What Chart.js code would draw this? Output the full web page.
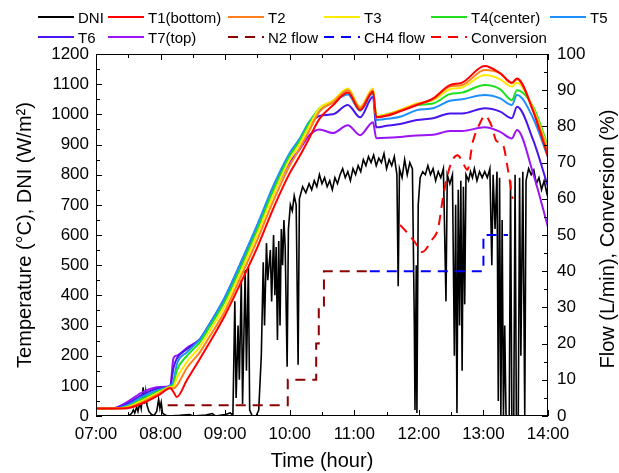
<!DOCTYPE html>
<html>
<head>
<meta charset="utf-8">
<script src="https://cdn.jsdelivr.net/npm/chart.js@4.4.0/dist/chart.umd.min.js"></script>
<style>
  body { margin: 0; background: #fff; }
  #wrap { position: relative; width: 619px; height: 473px; font-family: Arial, "Liberation Sans", sans-serif; }
  #legend { position: absolute; left: 0; top: 0; width: 619px; height: 50px; }
  .item { position: absolute; height: 20px; display: flex; align-items: center; font-size: 15px; white-space: nowrap; color: #000; }
  .item svg { margin-right: 4px; }
</style>
</head>
<body>
<div id="wrap">
  <canvas id="chart" width="619" height="473"></canvas>
  <div id="legend"></div>
</div>
<script>
// time in decimal hours
var tempTime = [7.0, 7.27, 7.48, 7.73, 7.99, 8.15, 8.2, 8.25, 8.41, 8.61, 8.75, 9.0, 9.25, 9.5, 9.75, 10.0, 10.15, 10.3, 10.46, 10.67, 10.9, 11.09, 11.29, 11.34, 11.5, 11.71, 11.97, 12.22, 12.48, 12.67, 13.02, 13.26, 13.44, 13.52, 13.77, 14.0]
var t1 = [25, 25, 26, 43, 72, 92, 80, 63, 120, 190, 240, 335, 445, 560, 690, 805, 860, 920, 985, 1030, 1072, 1014, 1075, 990, 995, 1010, 1031, 1053, 1097, 1105, 1160, 1136, 1105, 1119, 1010, 860]
var t2 = [25, 25, 27, 47, 76, 94, 92, 100, 160, 212, 260, 350, 465, 585, 715, 830, 885, 945, 1009, 1040, 1080, 1022, 1080, 990, 998, 1012, 1034, 1050, 1092, 1097, 1147, 1136, 1103, 1116, 1015, 875]
var t3 = [25, 25, 29, 52, 80, 96, 98, 125, 180, 230, 278, 368, 482, 605, 735, 850, 900, 960, 1020, 1045, 1086, 1025, 1086, 994, 1000, 1015, 1036, 1047, 1083, 1089, 1130, 1116, 1092, 1105, 1020, 885]
var t4 = [25, 25, 31, 58, 84, 98, 105, 150, 200, 245, 292, 382, 497, 620, 750, 862, 910, 970, 1020, 1045, 1083, 1020, 1083, 994, 1000, 1012, 1031, 1036, 1067, 1072, 1097, 1083, 1047, 1080, 1025, 895]
var t5 = [25, 25, 35, 65, 88, 100, 115, 170, 212, 255, 302, 395, 512, 635, 765, 872, 918, 975, 1015, 1040, 1066, 1012, 1070, 981, 985, 992, 1014, 1020, 1045, 1050, 1064, 1053, 1031, 1064, 987, 858]
var t6 = [25, 25, 40, 72, 92, 100, 160, 190, 222, 255, 302, 395, 512, 632, 758, 866, 915, 965, 995, 1000, 1031, 990, 1058, 957, 962, 968, 981, 987, 1003, 1003, 1020, 1009, 987, 1025, 915, 760]
var t7 = [25, 26, 46, 80, 96, 100, 192, 200, 226, 255, 298, 385, 498, 615, 738, 842, 882, 930, 950, 938, 964, 931, 974, 921, 922, 925, 930, 932, 945, 945, 957, 942, 920, 948, 804, 626]

var dniTime = [7.00, 7.50, 7.55, 7.58, 7.60, 7.63, 7.65, 7.68, 7.70, 7.72, 7.73, 7.75, 7.77, 7.79, 7.82, 7.86, 7.90, 7.94, 7.97, 7.99,
  8.01, 8.03, 8.07, 8.12, 8.30, 8.45, 8.50, 8.70, 8.80, 8.85, 9.00, 9.08, 9.12, 9.15, 9.17, 9.20, 9.22, 9.25, 9.27, 9.31,
  9.33, 9.36, 9.38, 9.42, 9.48, 9.52, 9.56, 9.59, 9.61, 9.64, 9.66, 9.70, 9.72, 9.75, 9.77, 9.79, 9.81, 9.83, 9.85, 9.87,
  9.89, 9.91, 9.93, 9.96, 9.98, 10.01, 10.04, 10.07, 10.10, 10.13, 10.15, 10.20, 10.25, 10.30, 10.34, 10.38, 10.42, 10.46, 10.50, 10.54,
  10.58, 10.62, 10.66, 10.70, 10.74, 10.78, 10.82, 10.86, 10.90, 10.94, 10.98, 11.02, 11.06, 11.10, 11.14, 11.18, 11.22, 11.26, 11.30, 11.34,
  11.38, 11.42, 11.46, 11.50, 11.54, 11.58, 11.62, 11.66, 11.68, 11.70, 11.74, 11.78, 11.82, 11.86, 11.90, 11.93, 11.94, 11.96, 11.97, 11.99,
  12.02, 12.06, 12.10, 12.14, 12.18, 12.22, 12.26, 12.30, 12.34, 12.38, 12.42, 12.44, 12.48, 12.52, 12.55, 12.57, 12.59, 12.61, 12.63, 12.65,
  12.67, 12.69, 12.71, 12.73, 12.77, 12.80, 12.83, 12.86, 12.90, 12.94, 12.98, 13.02, 13.06, 13.10, 13.13, 13.15, 13.18, 13.21, 13.23, 13.25,
  13.27, 13.29, 13.31, 13.33, 13.35, 13.40, 13.42, 13.44, 13.47, 13.49, 13.51, 13.54, 13.56, 13.58, 13.61, 13.64, 13.66, 13.70, 13.74, 13.78,
  13.82, 13.86, 13.90, 13.94, 13.98, 14.00]
var dniValue = [0, 0, 8, 20, 10, 30, 15, 45, 25, 70, 95, 40, 80, 35, 15, 5, 2, 15, 55, 25,
  45, 10, 3, 0, 2, 5, 0, 3, 8, 0, 5, 10, 2, 380, 60, 300, 120, 450, 40, 484,
  150, 494, 20, 0, 0, 20, 200, 510, 300, 573, 450, 550, 380, 600, 400, 560, 252, 580, 300, 620,
  500, 650, 560, 163, 620, 700, 680, 730, 700, 170, 720, 760, 740, 770, 750, 780, 760, 800, 770, 790,
  760, 780, 750, 790, 770, 800, 820, 790, 810, 780, 820, 800, 830, 810, 850, 830, 860, 840, 865, 830,
  855, 840, 870, 820, 850, 830, 860, 800, 430, 820, 790, 850, 800, 840, 820, 300, 20, 500, 10, 700,
  790, 810, 800, 830, 800, 820, 780, 810, 790, 820, 380, 800, 770, 800, 200, 700, 10, 750, 300, 780,
  150, 760, 370, 800, 780, 810, 790, 820, 780, 810, 790, 810, 790, 820, 500, 800, 620, 810, 50, 790,
  0, 650, 0, 300, 0, 0, 780, 0, 0, 800, 0, 0, 790, 200, 810, 0, 780, 820, 800, 815,
  770, 790, 750, 780, 740, 760]

// flows and conversion on the right axis
var n2Time = [8.11, 9.97, 9.97, 10.41, 10.41, 10.45, 10.45, 10.53, 10.53, 11.22]
var n2Value = [3, 3, 10, 10, 20, 20, 30, 30, 40, 40]
var ch4Time = [11.24, 13.0, 13.0, 13.38]
var ch4Value = [40, 40, 50, 50]
var convTime = [11.71, 11.85, 11.94, 12.05, 12.2, 12.3, 12.37, 12.45, 12.53, 12.6, 12.68, 12.75, 12.84, 12.95, 13.02, 13.13, 13.2, 13.3, 13.38, 13.45]
var convValue = [52.8, 50, 48, 45.3, 48.6, 52, 60, 67, 71, 72, 70, 68, 76, 81, 83, 80, 76, 75, 68, 60]

function pts(xs, ys) {
    return xs.map(function(x, i) { return {x: x, y: ys[i]}; });
}

var FONT = 'Arial, "Liberation Sans", sans-serif';

function tempSet(label, vals, color) {
    return {
        label: label, data: pts(tempTime, vals), yAxisID: 'y',
        borderColor: color, backgroundColor: color, borderWidth: 2,
        pointRadius: 0, cubicInterpolationMode: 'monotone', order: 5
    };
}

var datasets = [
    { label: 'DNI', data: pts(dniTime, dniValue), yAxisID: 'y', borderColor: '#000', backgroundColor: '#000',
      borderWidth: 1.6, pointRadius: 0, tension: 0, order: 10 },
    tempSet('T1(bottom)', t1, '#ff0000'),
    tempSet('T2', t2, '#ff7f1e'),
    tempSet('T3', t3, '#ffea00'),
    tempSet('T4(center)', t4, '#1fe01f'),
    tempSet('T5', t5, '#1e8fff'),
    tempSet('T6', t6, '#4a14f0'),
    tempSet('T7(top)', t7, '#9b14f5'),
    { label: 'N2 flow', data: pts(n2Time, n2Value), yAxisID: 'y2', borderColor: '#8b0000', backgroundColor: '#8b0000',
      borderWidth: 2, borderDash: [10, 7], pointRadius: 0, order: 1 },
    { label: 'CH4 flow', data: pts(ch4Time, ch4Value), yAxisID: 'y2', borderColor: '#0000ff', backgroundColor: '#0000ff',
      borderWidth: 2, borderDash: [10, 7], pointRadius: 0, order: 1 },
    { label: 'Conversion', data: pts(convTime, convValue), yAxisID: 'y2', borderColor: '#ff0000', backgroundColor: '#ff0000',
      borderWidth: 2, borderDash: [10, 7], pointRadius: 0, cubicInterpolationMode: 'monotone', order: 1 }
]

// inward ticks, frame and the right-hand title
var framePlugin = {
    id: 'frame',
    afterDraw: function(chart) {
        var ctx = chart.ctx, a = chart.chartArea;
        var x = chart.scales.x, y = chart.scales.y, y2 = chart.scales.y2;
        ctx.save();
        ctx.strokeStyle = '#000';
        ctx.lineWidth = 1;
        ctx.strokeRect(a.left + 0.5, a.top + 0.5, a.right - a.left - 1, a.bottom - a.top - 1);
        ctx.beginPath();
        for (var v = 7; v <= 14.001; v += 0.5) {
            var px = Math.round(x.getPixelForValue(v)) + 0.5;
            var len = (Math.abs(v - Math.round(v)) < 0.01) ? 6 : 4;
            ctx.moveTo(px, a.bottom); ctx.lineTo(px, a.bottom - len);
            ctx.moveTo(px, a.top); ctx.lineTo(px, a.top + len);
        }
        for (var w = 0; w <= 1200; w += 50) {
            var py = Math.round(y.getPixelForValue(w)) + 0.5;
            var l2 = (w % 100 === 0) ? 6 : 4;
            ctx.moveTo(a.left, py); ctx.lineTo(a.left + l2, py);
        }
        for (var r = 0; r <= 100; r += 5) {
            var py2 = Math.round(y2.getPixelForValue(r)) + 0.5;
            var l3 = (r % 10 === 0) ? 6 : 4;
            ctx.moveTo(a.right, py2); ctx.lineTo(a.right - l3, py2);
        }
        ctx.stroke();
        ctx.fillStyle = '#000';
        ctx.font = '20px ' + FONT;
        ctx.textAlign = 'center';
        ctx.textBaseline = 'middle';
        ctx.translate(608, (a.top + a.bottom) / 2 + 4);
        ctx.rotate(-Math.PI / 2);
        ctx.fillText('Flow (L/min), Conversion (%)', 0, 0);
        ctx.restore();
    }
};

function plain(v) { return String(v); }

var chart = new Chart(document.getElementById('chart'), {
    type: 'line',
    data: { datasets: datasets },
    plugins: [framePlugin],
    options: {
        responsive: false,
        animation: false,
        events: [],
        layout: { padding: { top: 54, left: 0, right: 0, bottom: 0 } },
        plugins: { legend: { display: false }, tooltip: { enabled: false } },
        scales: {
            x: {
                type: 'linear', min: 7, max: 14,
                afterFit: function(s) { s.height = 57; },
                grid: { display: false, drawTicks: false },
                border: { display: false },
                ticks: {
                    stepSize: 1, padding: 8, color: '#000', font: { family: FONT, size: 17 },
                    maxRotation: 0,
                    callback: function(v) { return (v < 10 ? '0' : '') + v + ':00'; }
                },
                title: { display: true, text: 'Time (hour)', color: '#000', font: { family: FONT, size: 20 }, padding: { top: 0, bottom: 0 } }
            },
            y: {
                position: 'left', min: 0, max: 1200,
                afterFit: function(s) { s.width = 96; },
                grid: { display: false, drawTicks: false },
                border: { display: false },
                ticks: { stepSize: 100, padding: 7, color: '#000', font: { family: FONT, size: 17 }, callback: plain },
                title: { display: true, text: 'Temperature (°C), DNI (W/m²)', color: '#000', font: { family: FONT, size: 20 }, padding: { top: 13, bottom: 0 } }
            },
            y2: {
                position: 'right', min: 0, max: 100,
                afterFit: function(s) { s.width = 71; },
                grid: { display: false, drawTicks: false },
                border: { display: false },
                ticks: { stepSize: 10, padding: 9, color: '#000', font: { family: FONT, size: 17 }, callback: plain }
            }
        }
    }
});

// legend laid out on a grid like the original
var cols = [38, 108, 228, 324, 431, 550];
var rows = [7, 27];
var legend = document.getElementById('legend');
chart.data.datasets.forEach(function(ds, i) {
    var row = i < 6 ? 0 : 1;
    var col = i < 6 ? i : i - 6;
    var div = document.createElement('div');
    div.className = 'item';
    div.style.left = cols[col] + 'px';
    div.style.top = rows[row] + 'px';
    var dash = ds.borderDash ? ' stroke-dasharray="10 7"' : '';
    div.innerHTML = '<svg width="36" height="4"><line x1="0" y1="2" x2="36" y2="2" stroke="' + ds.borderColor +
        '" stroke-width="2"' + dash + '/></svg><span>' + ds.label + '</span>';
    legend.appendChild(div);
});
</script>
</body>
</html>
